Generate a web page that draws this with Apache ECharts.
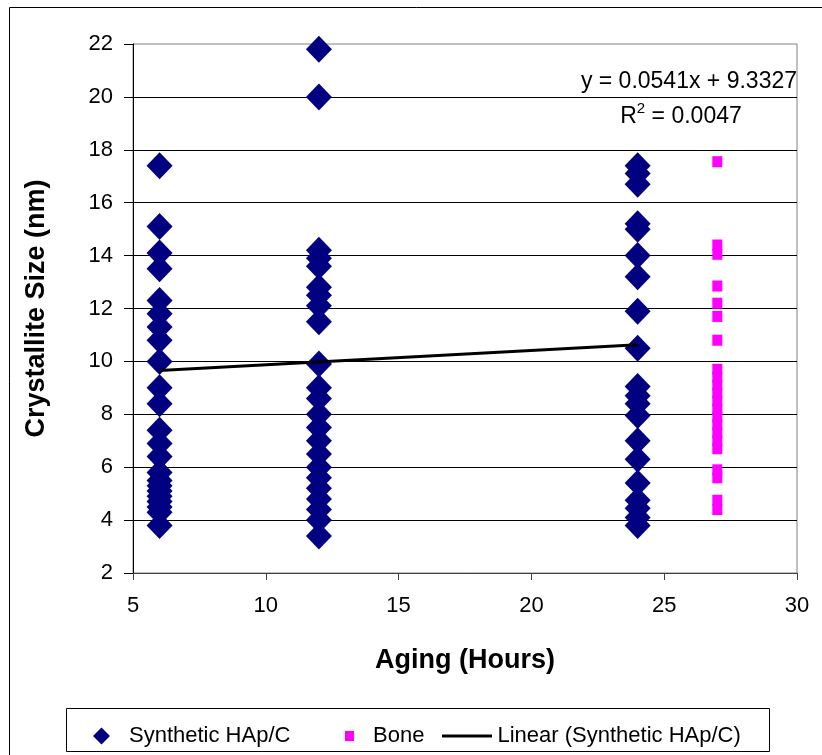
<!DOCTYPE html>
<html>
<head>
<meta charset="utf-8">
<script src="https://cdn.jsdelivr.net/npm/echarts@6/dist/echarts.min.js"></script>
<style>html,body{margin:0;padding:0;background:#fff;}#c{width:822px;height:755px;}</style>
</head>
<body>
<div id="c"></div>
<script>
// ---- data ----
const synAging6 = [17.4, 15.1, 14.1, 13.5, 12.3, 11.8, 11.3, 10.8, 10.0, 9.0, 8.4, 7.4, 6.9, 6.4, 5.8, 5.5, 5.3, 5.1, 4.9, 4.7, 4.5, 4.3, 3.8];
const synAging12 = [21.8, 20.0, 14.2, 13.9, 13.6, 12.8, 12.5, 12.1, 11.5, 9.9, 9.0, 8.6, 8.0, 7.5, 7.0, 6.5, 6.0, 5.6, 5.2, 4.8, 4.4, 4.0, 3.4];
const synAging24 = [17.4, 17.1, 16.7, 15.2, 15.0, 14.0, 13.2, 11.9, 10.5, 9.05, 8.7, 8.4, 7.95, 7.0, 6.3, 5.4, 4.75, 4.45, 4.1, 3.8];
const boneAging = 27;
const boneValues = [17.55, 14.4, 14.05, 12.85, 12.2, 11.7, 10.8, 9.7, 9.4, 9.1, 8.8, 8.5, 8.2, 7.9, 7.6, 7.3, 7.0, 6.7, 5.9, 5.6, 4.75, 4.4];
const trendX = [6, 24];
const trendY = [9.66, 10.63];
const equationText = 'y = 0.0541x + 9.3327';
const r2Text = '0.0047';
const seriesNames = ['Synthetic HAp/C', 'Bone', 'Linear (Synthetic HAp/C)'];

// ---- build ----
const synData = []
  .concat(synAging6.map(v => [6, v]))
  .concat(synAging12.map(v => [12, v]))
  .concat(synAging24.map(v => [24, v]));
const boneData = boneValues.map(v => [boneAging, v]);
const trendData = trendX.map((x, i) => [x, trendY[i]]);

const FONT = '"Liberation Sans", Arial, sans-serif';
const chart = echarts.init(document.getElementById('c'), null, {renderer: 'canvas'});

chart.setOption({
  animation: false,
  backgroundColor: '#fff',
  textStyle: {fontFamily: FONT, color: '#000'},
  grid: {left: 133, right: 25, top: 44, bottom: 182, show: true, borderColor: '#808080', borderWidth: 1, backgroundColor: 'transparent'},
  xAxis: {
    type: 'value', min: 5, max: 30, interval: 5,
    name: 'Aging (Hours)', nameLocation: 'middle', nameGap: 74,
    nameTextStyle: {fontFamily: FONT, fontSize: 27, fontWeight: 'bold', color: '#000'},
    axisLine: {show: true, lineStyle: {color: '#404040', width: 1}},
    axisTick: {show: true, inside: false, length: 7, lineStyle: {color: '#404040'}},
    axisLabel: {fontFamily: FONT, fontSize: 22, color: '#000', margin: 22},
    splitLine: {show: false}
  },
  yAxis: {
    type: 'value', min: 2, max: 22, interval: 2,
    name: 'Crystallite Size (nm)', nameLocation: 'middle', nameGap: 83,
    nameTextStyle: {fontFamily: FONT, fontSize: 27, fontWeight: 'bold', color: '#000'},
    axisLine: {show: true, lineStyle: {color: '#000', width: 1}},
    axisTick: {show: true, inside: false, length: 9, lineStyle: {color: '#000'}},
    axisLabel: {fontFamily: FONT, fontSize: 22, color: '#000', margin: 20},
    splitLine: {show: true, showMinLine: false, showMaxLine: false, lineStyle: {color: '#000', width: 1}}
  },
  legend: [
    {data: [{name: seriesNames[0], icon: 'diamond'}], left: 88, top: 720, itemWidth: 17, itemHeight: 17,
     textStyle: {fontFamily: FONT, fontSize: 22, color: '#000', padding: [0, 0, 0, 14]}, selectedMode: false},
    {data: [{name: seriesNames[1], icon: 'rect'}], left: 340, top: 720, itemWidth: 9, itemHeight: 10,
     textStyle: {fontFamily: FONT, fontSize: 22, color: '#000', padding: [0, 0, 0, 14]}, selectedMode: false},
    {data: [{name: seriesNames[2], icon: 'path://M0,0L50,0L50,3L0,3Z'}], left: 437, top: 720, itemWidth: 51, itemHeight: 3,
     textStyle: {fontFamily: FONT, fontSize: 22, color: '#000', padding: [0, 0, 0, 0]}, selectedMode: false}
  ],
  graphic: [
    {type: 'rect', left: 7, top: 5, shape: {x: 0, y: 0, width: 840, height: 800}, style: {fill: 'none', stroke: '#000', lineWidth: 1}, silent: true, z: -1},
    {type: 'rect', shape: {x: 66.5, y: 708.5, width: 703, height: 43}, style: {fill: 'none', stroke: '#000', lineWidth: 1}, silent: true},
    {type: 'text', x: 797, y: 82, style: {text: equationText, fontFamily: FONT, fontSize: 23, fill: '#000', align: 'right', verticalAlign: 'middle'}, z: 10},
    {type: 'text', x: 681, y: 115, style: {
      text: '{a|R}{s|2}{a| = ' + r2Text + '}',
      align: 'center', verticalAlign: 'middle',
      rich: {
        a: {fontFamily: FONT, fontSize: 23, fill: '#000', verticalAlign: 'bottom'},
        s: {fontFamily: FONT, fontSize: 15, fill: '#000', verticalAlign: 'top', padding: [0, 0, 12, 0]}
      }
    }, z: 10}
  ],
  series: [
    {name: seriesNames[0], type: 'scatter', data: synData, symbol: 'diamond', symbolSize: [26, 27],
     itemStyle: {color: '#000080', opacity: 1}, z: 3},
    {name: seriesNames[1], type: 'scatter', data: boneData, symbol: 'rect', symbolSize: [10, 11],
     itemStyle: {color: '#FF00FF', opacity: 1}, z: 3},
    {name: seriesNames[2], type: 'line', data: trendData, showSymbol: false, symbol: 'none',
     lineStyle: {color: '#000', width: 3}, itemStyle: {color: '#000'}, z: 4}
  ]
});
</script>
</body>
</html>
